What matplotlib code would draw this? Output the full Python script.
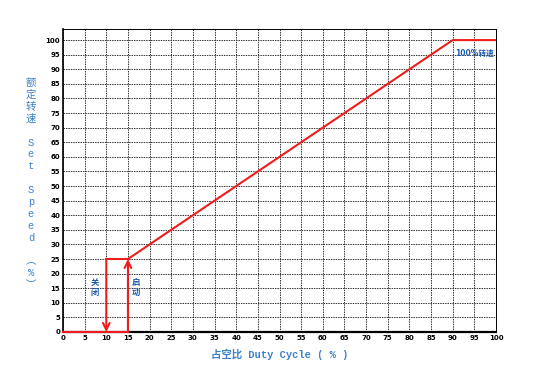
import numpy as np
import matplotlib
matplotlib.use('Agg')
import matplotlib.pyplot as plt

# datos
x_ticks = list(range(0, 101, 5))
y_ticks = list(range(0, 101, 5))
off_duty = 10       # 关闭
on_duty = 15        # 启动
start_speed = 25
full_duty = 90
ramp_x = [on_duty, full_duty, 100]
ramp_y = [start_speed, 100, 100]
ylabel_chars = ['额', '定', '转', '速', '', 'S', 'e', 't', '', 'S', 'p', 'e', 'e', 'd', '', '︵', '%', '︶']

red = '#ee1c1c'
blue_lbl = '#3d82c8'
blue_txt = '#1c5cae'
fam = ['Liberation Mono', 'Noto Sans CJK SC', 'DejaVu Sans']

fig = plt.figure(figsize=(5.36, 3.74), dpi=100)
ax = fig.add_axes([63/536, 1-332/374, 433/536, 303/374])

ax.set_xlim(0, 100)
ax.set_ylim(0, 103.8)
ax.set_xticks(x_ticks)
ax.set_yticks(y_ticks)
ax.tick_params(length=0, labelsize=5, pad=2)
for lb in ax.get_xticklabels() + ax.get_yticklabels():
    lb.set_fontweight('bold')
ax.grid(True, color='#333333', linestyle=(0, (1.5, 1)), linewidth=0.7)
ax.spines['top'].set_linestyle((0, (1.5, 1)))
ax.spines['right'].set_linestyle((0, (1.5, 1)))
ax.spines['top'].set_linewidth(0.7)
ax.spines['right'].set_linewidth(0.7)
ax.spines['left'].set_linewidth(1.2)
ax.spines['bottom'].set_linewidth(1.6)

lw = 1.5
# linea base y rampa
ax.plot([0, on_duty], [0, 0], color=red, lw=lw, zorder=3, clip_on=False)
ax.plot(ramp_x, ramp_y, color=red, lw=lw, zorder=3)
ax.plot([off_duty, on_duty], [start_speed, start_speed], color=red, lw=lw, zorder=3)
# flechas
ax.annotate('', xy=(off_duty, 0), xytext=(off_duty, start_speed),
            arrowprops=dict(arrowstyle='->', color=red, lw=lw, mutation_scale=12, shrinkA=0, shrinkB=0), zorder=4)
ax.annotate('', xy=(on_duty, start_speed), xytext=(on_duty, 0),
            arrowprops=dict(arrowstyle='->', color=red, lw=lw, mutation_scale=12, shrinkA=0, shrinkB=0), zorder=4)

ax.text(7.4, 15.3, '关\n闭', color=blue_txt, fontsize=6, ha='center', va='center',
        family='Noto Sans CJK SC', fontweight='bold', linespacing=1.1)
ax.text(16.8, 15.3, '启\n动', color=blue_txt, fontsize=6, ha='center', va='center',
        family='Noto Sans CJK SC', fontweight='bold', linespacing=1.1)
ax.text(95, 95.5, '100%转速', color=blue_txt, fontsize=5.5, ha='center', va='center',
        family=['DejaVu Sans', 'Noto Sans CJK SC'], fontweight='bold')

# etiqueta eje y, letra por letra
y0, step = 83, 11.9
for i, ch in enumerate(ylabel_chars):
    if ch:
        fig.text(31/536, 1-(y0+i*step)/374, ch, color=blue_lbl, fontsize=7.5,
                 ha='center', va='center', family=fam)

fig.text(280/536, 1-354/374, '占空比 Duty Cycle ( % )', color=blue_lbl, fontsize=7.5,
         ha='center', va='center', family=fam, fontweight='bold')

fig.savefig('out.png', dpi=100)
